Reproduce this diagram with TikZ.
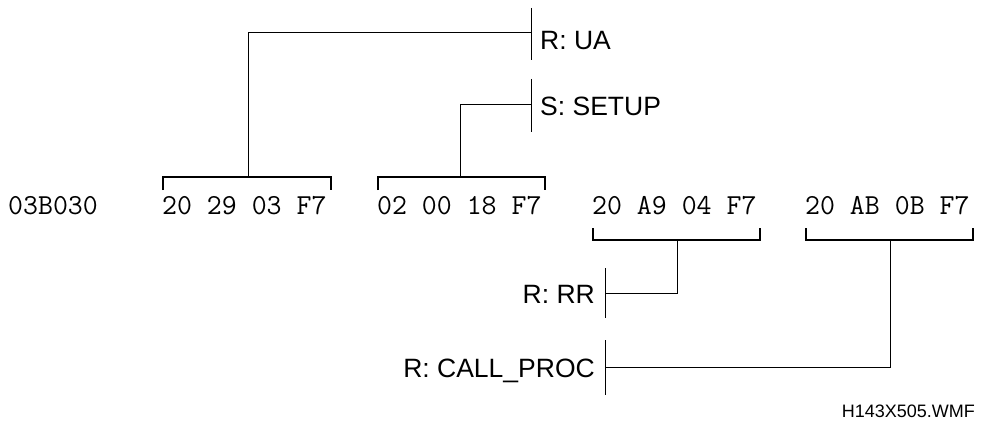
\documentclass[tikz,border=0pt]{standalone}
\usepackage{fontspec}
\setmainfont{Liberation Sans}
\begin{document}
\begin{tikzpicture}[x=1pt,y=-1pt,
  hexlbl/.style={font=\ttfamily\fontsize{29}{34}\selectfont, anchor=base west, inner sep=0pt},
  msglbl/.style={font=\fontsize{26.5}{31}\selectfont, inner sep=0pt},
  thinline/.style={line width=1pt},
  brk/.style={line width=2.5pt, line cap=butt, line join=miter},
  bar/.style={line width=1pt}]
\useasboundingbox (0,0) rectangle (997,428);
% hex row
\node[hexlbl] (h0) at (8,214) {03B030};
\node[hexlbl] (h1) at (162,214) {20 29 03 F7};
\node[hexlbl] (h2) at (377,214) {02 00 18 F7};
\node[hexlbl] (h3) at (592,214) {20 A9 04 F7};
\node[hexlbl] (h4) at (805,214) {20 AB 0B F7};
% upper brackets
\draw[brk] (163,190) -- (163,177) -- (331,177) -- (331,190);
\draw[brk] (378,190) -- (378,177) -- (545,177) -- (545,190);
\coordinate (b1m) at (248,177);
\coordinate (b2m) at (460,177);
% lower brackets
\draw[brk] (593,228) -- (593,240) -- (760,240) -- (760,228);
\draw[brk] (806,228) -- (806,240) -- (973,240) -- (973,228);
\coordinate (b3m) at (677,240);
\coordinate (b4m) at (890,240);
% upper labels
\node[msglbl, anchor=base west] (ua) at (540,50) {R: UA};
\draw[bar] (531,8) -- (531,60);
\coordinate (uaj) at (531,33);
\node[msglbl, anchor=base west] (setup) at (540,115) {S: SETUP};
\draw[bar] (531,79) -- (531,132);
\coordinate (setupj) at (531,105);
\draw[thinline] (b1m) |- (uaj);
\draw[thinline] (b2m) |- (setupj);
% lower labels
\node[msglbl, anchor=base east] (rr) at (595,303) {R: RR};
\draw[bar] (605,268) -- (605,318);
\coordinate (rrj) at (605,293);
\node[msglbl, anchor=base east] (cp) at (595,377) {R: CALL\_PROC};
\draw[bar] (605,340) -- (605,395);
\coordinate (cpj) at (605,367);
\draw[thinline] (b3m) |- (rrj);
\draw[thinline] (b4m) |- (cpj);
% file name
\node[font=\fontsize{18}{21}\selectfont, anchor=base east, inner sep=0pt] (fn) at (975,417) {H143X505.WMF};
\end{tikzpicture}
\end{document}
